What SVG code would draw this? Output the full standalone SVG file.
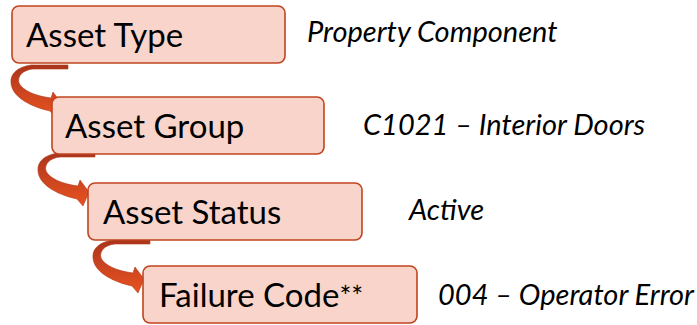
<svg xmlns="http://www.w3.org/2000/svg" width="697" height="325" viewBox="0 0 697 325">
<defs>
<linearGradient id="arrowGrad" x1="0" y1="0" x2="0" y2="1">
<stop offset="0" stop-color="#A9341B"/>
<stop offset="0.45" stop-color="#C8431F"/>
<stop offset="1" stop-color="#E8521F"/>
</linearGradient>
<path id="curvedArrow" d="M 95,153 L 58,153 C 44,155 37,162 38,171 C 39,184 55,194 77,199 L 83,206 L 89,192 L 80,180 L 78,186 C 62,184 49,178 46,171 C 44,164 50,158 60,157 L 95,157 Z"/>
</defs>
<style>
.box { fill: #F8D4CA; stroke: #C0441F; stroke-width: 1.6; }
.arrow { fill: url(#arrowGrad); stroke: #B3391C; stroke-width: 0.6; }
.lbl { font-family: Lato, "Liberation Sans", sans-serif; font-size: 33px; fill: #000; }
.val { font-family: Lato, "Liberation Sans", sans-serif; font-style: italic; font-size: 29px; fill: #000; }
</style>
<rect width="697" height="325" fill="#FFFFFF"/>
<g id="connectors">
<use href="#curvedArrow" class="arrow" transform="translate(-27,-88)"/>
<use href="#curvedArrow" class="arrow"/>
<use href="#curvedArrow" class="arrow" transform="translate(55,87)"/>
</g>
<g id="node-asset-type">
<rect class="box" x="12" y="6" width="273" height="57" rx="7"/>
<text class="lbl" x="26" y="47">Asset Type</text>
</g>
<g id="node-asset-group">
<rect class="box" x="52" y="97" width="272" height="57" rx="7"/>
<text class="lbl" x="65" y="138">Asset Group</text>
</g>
<g id="node-asset-status">
<rect class="box" x="88" y="183" width="274" height="57" rx="7"/>
<text class="lbl" x="103" y="224">Asset Status</text>
</g>
<g id="node-failure-code">
<rect class="box" x="143" y="266" width="274" height="57" rx="7"/>
<text class="lbl" x="159" y="307">Failure Code<tspan font-size="28px">**</tspan></text>
</g>
<g id="values">
<text class="val" x="307" y="42">Property Component</text>
<text class="val" x="363" y="135">C1021 – Interior Doors</text>
<text class="val" x="409" y="220">Active</text>
<text class="val" x="438" y="305">004 – Operator Error</text>
</g>
</svg>
